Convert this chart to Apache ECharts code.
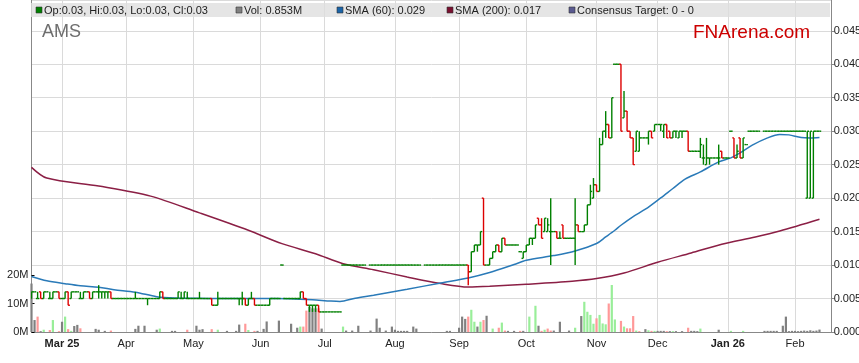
<!DOCTYPE html>
<html><head><meta charset="utf-8">
<script src="https://cdn.jsdelivr.net/npm/echarts/dist/echarts.min.js"></script>
<style>html,body{margin:0;padding:0;background:#fff}#c{width:859px;height:363px}</style>
</head><body><div id="c"></div>
<script>
// ---- data ----
const startDate = '2025-02-17';       // first trading weekday on the axis
const dayCount = 263;                 // weekdays on the axis
const monthLabels = ['Mar 25','Apr','May','Jun','Jul','Aug','Sep','Oct','Nov','Dec','Jan 26','Feb'];
const yearLabels = ['Mar 25','Jan 26'];
const priceTicks = [0,0.005,0.010,0.015,0.020,0.025,0.030,0.035,0.040,0.045];
const volumeTicks = [0,10,20];

const open = [
.005,.006,.005,.006,.005,.006,.005,.005,.006,.006,
.005,.005,.006,.005,.006,.006,.005,.005,.006,.006,
.005,.006,.006,.006,.006,.006,.006,.005,.005,.005,
.005,.005,.005,.005,.005,.005,.005,.005,.005,.005,
.005,.005,.005,.006,.005,.005,.005,.005,.005,.005,
.005,.005,.005,.005,.005,.005,.005,.005,.005,.005,
.004,.004,.005,.005,.005,.005,.005,.005,.005,.005,
.005,.004,.005,.005,.004,.004,.004,.004,.004,.005,
.005,.005,.010,.005,.005,.005,.005,.005,.005,.006,
.005,.004,.004,.004,.004,.003,.003,.003,.003,.003,
.003,.003,.010,.010,.010,.010,.010,.010,.010,.010,
null,.010,.010,.010,.010,.010,.010,.010,.010,.010,
.010,.010,.010,.010,.010,.010,.010,.010,null,.010,
.010,.010,.010,.010,.010,.010,.010,.010,.010,.010,
.010,.010,.010,.010,.009,.012,.013,.013,.020,.010,
.010,.011,.012,.013,.012,.014,.013,.013,.013,.013,
.012,.011,.012,.013,.014,.014,.017,.016,.015,.015,
.015,.015,.015,.014,.016,.014,.014,.014,.014,.016,
.015,.015,.016,.019,.020,.022,.021,.028,.030,.031,
.029,.040,.040,.040,.032,.033,.030,.029,.027,.027,
.029,.029,.029,.030,.030,.031,.031,.030,.031,.030,
.029,.030,.029,.030,.030,.030,.027,.027,.027,.027,
.026,.025,.026,.026,.026,.026,.027,.026,.026,.030,
.029,.026,.029,.026,.028,.030,.030,.030,.030,null,
.030,.030,.030,.030,.030,.030,.030,.030,.030,.030,
.030,.030,.030,.030,.020,.020,.020,.030,.030];
const high = [
.006,.006,.006,.006,.006,.006,.006,.006,.006,.006,
.005,.006,.006,.006,.006,.006,.006,.006,.006,.006,
.006,.006,.007,.006,.006,.006,.006,.005,.005,.005,
.005,.005,.005,.005,.006,.005,.005,.005,.005,.005,
.005,.005,.006,.006,.005,.005,.005,.005,.006,.006,
.006,.006,.005,.005,.005,.006,.005,.005,.005,.005,
.004,.006,.005,.005,.005,.005,.005,.005,.005,.006,
.005,.005,.006,.005,.004,.004,.004,.004,.005,.005,
.005,.005,.010,.005,.005,.005,.005,.005,.006,.006,
.005,.004,.004,.004,.004,.003,.003,.003,.003,.003,
.003,.003,.010,.010,.010,.010,.010,.010,.010,.010,
null,.010,.010,.010,.010,.010,.010,.010,.010,.010,
.010,.010,.010,.010,.010,.010,.010,.010,null,.010,
.010,.010,.010,.010,.010,.010,.010,.010,.010,.010,
.010,.010,.010,.010,.012,.013,.013,.015,.020,.010,
.011,.012,.013,.013,.014,.014,.013,.013,.013,.013,
.012,.012,.013,.014,.014,.016,.017,.017,.017,.017,
.020,.015,.015,.015,.016,.014,.014,.014,.020,.016,
.015,.016,.019,.022,.023,.022,.029,.030,.033,.031,
.035,.040,.040,.040,.036,.033,.030,.029,.030,.030,
.029,.029,.030,.030,.031,.031,.031,.031,.031,.030,
.030,.030,.030,.030,.030,.030,.027,.027,.027,.029,
.028,.029,.026,.026,.026,.028,.027,.026,.026,.030,
.029,.028,.029,.029,.028,.030,.030,.030,.030,null,
.030,.030,.030,.030,.030,.030,.030,.030,.030,.030,
.030,.030,.030,.030,.030,.030,.030,.030,.030];
const low = [
.005,.006,.005,.005,.005,.006,.005,.005,.006,.005,
.005,.005,.004,.005,.006,.006,.005,.005,.006,.005,
.005,.006,.005,.005,.005,.005,.005,.005,.005,.005,
.005,.005,.005,.005,.005,.005,.005,.005,.004,.005,
.005,.005,.005,.005,.005,.005,.005,.005,.005,.005,
.005,.005,.005,.005,.005,.005,.005,.005,.005,.004,
.004,.004,.005,.005,.005,.005,.005,.005,.004,.004,
.004,.004,.005,.004,.004,.004,.004,.004,.004,.005,
.005,.005,.010,.005,.005,.005,.005,.005,.005,.005,
.004,.003,.003,.003,.003,.003,.003,.003,.003,.003,
.003,.003,.010,.010,.010,.010,.010,.010,.010,.010,
null,.010,.010,.010,.010,.010,.010,.010,.010,.010,
.010,.010,.010,.010,.010,.010,.010,.010,null,.010,
.010,.010,.010,.010,.010,.010,.010,.010,.010,.010,
.010,.010,.010,.007,.009,.012,.012,.013,.010,.010,
.010,.011,.012,.012,.012,.013,.013,.013,.013,.013,
.012,.011,.012,.013,.013,.014,.016,.014,.015,.015,
.010,.015,.014,.014,.014,.014,.014,.014,.010,.015,
.015,.015,.016,.019,.020,.021,.021,.028,.029,.029,
.029,.040,.040,.030,.032,.030,.029,.025,.027,.027,
.029,.029,.028,.029,.030,.031,.030,.029,.029,.029,
.029,.029,.029,.029,.030,.027,.027,.027,.027,.026,
.025,.025,.025,.026,.026,.025,.026,.026,.026,.030,
.026,.026,.026,.026,.028,.030,.030,.030,.030,null,
.030,.030,.030,.030,.030,.030,.030,.030,.030,.030,
.030,.030,.030,.030,.020,.020,.020,.030,.030];
const close = [
.006,.006,.005,.005,.006,.006,.005,.006,.006,.005,
.005,.006,.004,.006,.006,.006,.005,.006,.006,.005,
.006,.006,.006,.006,.006,.006,.005,.005,.005,.005,
.005,.005,.005,.005,.005,.005,.005,.005,.005,.005,
.005,.005,.006,.005,.005,.005,.005,.005,.006,.005,
.006,.005,.005,.005,.005,.005,.005,.005,.005,.004,
.004,.005,.005,.005,.005,.005,.005,.005,.005,.005,
.004,.005,.005,.004,.004,.004,.004,.004,.005,.005,
.005,.005,.010,.005,.005,.005,.005,.005,.006,.005,
.004,.004,.004,.004,.003,.003,.003,.003,.003,.003,
.003,.003,.010,.010,.010,.010,.010,.010,.010,.010,
null,.010,.010,.010,.010,.010,.010,.010,.010,.010,
.010,.010,.010,.010,.010,.010,.010,.010,null,.010,
.010,.010,.010,.010,.010,.010,.010,.010,.010,.010,
.010,.010,.010,.009,.012,.013,.013,.015,.010,.010,
.011,.012,.013,.012,.014,.013,.013,.013,.013,.013,
.012,.012,.013,.014,.014,.016,.016,.014,.017,.016,
.015,.015,.014,.014,.014,.014,.014,.014,.016,.015,
.015,.016,.019,.021,.022,.021,.028,.030,.031,.029,
.035,.040,.040,.030,.033,.030,.029,.025,.030,.029,
.029,.029,.030,.029,.031,.031,.031,.031,.029,.029,
.030,.030,.030,.030,.030,.027,.027,.027,.027,.028,
.026,.026,.026,.026,.026,.026,.026,.026,.026,.030,
.026,.027,.026,.029,.028,.030,.030,.030,.030,null,
.030,.030,.030,.030,.030,.030,.030,.030,.030,.030,
.030,.030,.030,.030,.030,.030,.030,.030,.030];
// volume in millions of shares
const volume = [
17.0,4.2,5.4,0.3,0.8,0,0.7,4.2,0,0.3,
3.6,5.4,1.0,0.4,2.1,2.5,1.3,0,0,0,
0,1.1,0.8,0,0.4,0,0.5,0,0,0,
0,0,0,0,1.1,2.2,0,2.2,0,0,
0,0.8,1.2,0,0,0,0.4,0.4,0,0,
0,0.8,0,0,2.2,0.8,1.0,0,0,1.0,
0,0.8,0,0,0.4,0,0,0.4,2.6,0,
2.9,0.7,0,0.4,0.4,0,1.1,3.7,0,0,
0,4.0,0,0,0,2.9,0,1.5,1.9,1.9,
7.5,8.8,8.3,8.3,8.3,1.2,0,0,0,0,
0,0,1.9,0.5,0,0.5,0,2.2,0,0,
0,0.5,0,4.7,1.5,0,0.5,0,1.9,0.8,
0.4,0.4,0.4,0.4,0,1.9,1.2,0,0,0,
0,0,0,0,0,0,0.4,0.4,0,0,
1.5,5.4,4.6,5.4,7.8,3.6,1.9,3.6,4.2,5.7,
0,1.2,0,1.5,3.3,0.5,0.4,0,0.4,0,
0.4,0.4,0,5.4,0,9.2,2.2,0.4,0.8,1.2,
0.5,0.5,0,3.6,0,0,0.5,0,1.5,0,
5.6,10.6,7.1,6.0,2.9,4.8,6.0,3.0,2.7,10.0,
16.5,4.4,0,3.9,1.9,1.3,1.3,5.6,0.5,0.3,
0,1.0,0.6,0.4,0.4,0.4,0.4,0.4,0.3,0.3,
0.3,0.3,0,0.3,0,1.5,0.4,0.4,0.3,1.2,
0,0,0,0,0,0.8,0,0,0,0.4,
0,0,0,0.4,0,0,0,0,0,0,
0.4,0.4,0.4,0.4,0.4,0,2.2,5.4,0.3,0.4,
0.4,0.3,0.4,0.5,0.4,0.6,0.4,0.5,0.853];
// moving averages read at [day index, value]
const sma60 = [[0,.0083],[5,.00765],[11,.00722],[16,.0069],[22,.00668],[27,.00632],[34,.00595],[41,.00528],[47,.00508],[54,.00503],[62,.005],[70,.005],[80,.005],[88,.0049],[92,.00482],[98,.00462],[101,.00456],[106,.00505],[112,.00549],[123,.00638],[134,.00733],[143,.00807],[150,.00888],[158,.01008],[162,.01072],[171,.01142],[178,.01211],[185,.01322],[188,.0142],[191,.0152],[193,.01595],[197,.01725],[201,.01834],[206,.02003],[210,.02144],[214,.02283],[219,.02392],[225,.02541],[229,.02601],[232,.02676],[236,.02791],[241,.029],[245,.02951],[248,.02945],[252,.02906],[255,.029],[258,.02906]];
const sma200 = [[0,.0246],[5,.0230],[22,.0218],[39,.0203],[55,.0178],[71,.0152],[82,.0132],[93,.0117],[102,.0102],[112,.0093],[123,.00822],[134,.00724],[143,.00673],[150,.00683],[162,.00713],[177,.00758],[185,.00798],[194,.00882],[205,.01042],[216,.01181],[226,.01311],[237,.0142],[245,.0151],[258,.01685]];
const legendItems = [
  {name:'Op:0.03, Hi:0.03, Lo:0.03, Cl:0.03', color:'#008000'},
  {name:'Vol: 0.853M', color:'#808080'},
  {name:'SMA (60): 0.029', color:'#1a64a8'},
  {name:'SMA (200): 0.017', color:'#7a1030'},
  {name:'Consensus Target: 0 - 0', color:'#5a5a90'}
];

// ---- build ----
const dates = [];
(function(){ const d = new Date(startDate + 'T00:00:00Z');
  while (dates.length < dayCount) { const w = d.getUTCDay(); if (w !== 0 && w !== 6) dates.push(d.toISOString().slice(0,10)); d.setUTCDate(d.getUTCDate()+1); } })();
const monthStart = {};
(function(){ let k = 0; for (let i = 1; i < dates.length; i++) { if (dates[i].slice(5,7) !== dates[i-1].slice(5,7)) { monthStart[i] = monthLabels[k++]; } } })();

const GREEN = '#008000', RED = '#dd0000';
const ohlc = [];
for (let i = 0; i < close.length; i++) if (close[i] != null) ohlc.push([i, open[i], high[i], low[i], close[i]]);
const volData = [];
let prev = null;
for (let i = 0; i < volume.length; i++) {
  const c = close[i];
  let col = '#808080';
  if (c != null && prev != null) { if (c > prev + 1e-9) col = '#99ee99'; else if (c < prev - 1e-9) col = '#ff9999'; }
  if (c != null) prev = c;
  volData.push({value: volume[i], itemStyle: {color: col}});
}

function renderOHLC(params, api) {
  const i = api.value(0), o = api.value(1), h = api.value(2), l = api.value(3), c = api.value(4);
  const pO = api.coord([i, o]), pH = api.coord([i, h]), pL = api.coord([i, l]), pC = api.coord([i, c]);
  const x = pO[0];
  const w = api.size([1, 0])[0] / 2 + 0.2;
  const col = c < o ? RED : GREEN;
  const st = {stroke: col, lineWidth: 1.4};
  return {type: 'group', children: [
    {type: 'line', shape: {x1: x, y1: pH[1], x2: x, y2: pL[1]}, style: st},
    {type: 'line', shape: {x1: x - w, y1: pO[1], x2: x, y2: pO[1]}, style: st},
    {type: 'line', shape: {x1: x, y1: pC[1], x2: x + w, y2: pC[1]}, style: st}
  ]};
}

const FONT = '"Liberation Sans", Arial, sans-serif';
const legendX = [36, 236, 337, 447, 569];
const graphics = [
  {type:'rect', shape:{x:31, y:3, width:799, height:14}, style:{fill:'rgba(222,222,222,0.78)'}, z:100},
  {type:'text', x:42, y:32, style:{text:'AMS', fill:'#6e6e6e', font:'18px ' + FONT, textVerticalAlign:'middle'}, z:100},
  {type:'text', x:693, y:33, style:{text:'FNArena.com', fill:'#cc0000', font:'19px ' + FONT, textVerticalAlign:'middle'}, z:100}
];
legendItems.forEach((it, k) => {
  graphics.push({type:'rect', shape:{x:legendX[k], y:7, width:6, height:6}, style:{fill:it.color, stroke:'#333', lineWidth:0.6}, z:101});
  graphics.push({type:'text', x:legendX[k] + 8, y:10.5, style:{text:it.name, fill:'#222', font:'11px ' + FONT, textVerticalAlign:'middle'}, z:101});
});

const chart = echarts.init(document.getElementById('c'), null, {renderer:'canvas'});
chart.setOption({
  animation: false,
  backgroundColor: '#fff',
  textStyle: {fontFamily: FONT},
  grid: [
    {left: 31.5, right: 27.3, top: 0, bottom: 31, outerBoundsMode: 'none', containLabel: false},
    {left: 31.5, right: 27.3, top: 275, bottom: 31, outerBoundsMode: 'none', containLabel: false}
  ],
  xAxis: [
    {type:'category', gridIndex:0, data:dates, boundaryGap:false,
     axisLine:{show:true, lineStyle:{color:'#888', width:1}},
     axisTick:{show:false},
     axisLabel:{interval:(idx) => monthStart[idx] !== undefined, margin:6, fontSize:11, color:'#222', fontFamily:FONT,
       formatter:(v, idx) => { const t = monthStart[idx] || ''; return yearLabels.includes(t) ? '{b|' + t + '}' : t; },
       rich:{b:{fontWeight:'bold', fontSize:11, fontFamily:FONT, color:'#222'}}},
     splitLine:{show:true, interval:(idx) => monthStart[idx] !== undefined, lineStyle:{color:'#dadada', width:1}}},
    {type:'category', gridIndex:1, data:dates, boundaryGap:false, show:false}
  ],
  yAxis: [
    {type:'value', gridIndex:0, position:'right', min:0, max:0.0496, interval:0.005,
     axisLine:{show:true, lineStyle:{color:'#888'}}, axisTick:{show:true, length:3, lineStyle:{color:'#888'}},
     axisLabel:{showMaxLabel:false, margin:2, fontSize:11, color:'#222', fontFamily:FONT,
       formatter:(v) => priceTicks.some(t => Math.abs(t - v) < 1e-9) ? v.toFixed(3) : ''},
     splitLine:{show:true, lineStyle:{color:'#dadada', width:1}}},
    {type:'value', gridIndex:1, position:'left', min:0, max:20, interval:10,
     axisLine:{show:false}, axisTick:{show:true, inside:true, length:3, lineStyle:{color:'#000'}},
     axisLabel:{margin:3, fontSize:11, color:'#222', fontFamily:FONT,
       formatter:(v) => volumeTicks.includes(v) ? v + 'M' : ''},
     splitLine:{show:false}},
    {type:'value', gridIndex:0, position:'left', min:0, max:1,
     axisLine:{show:true, lineStyle:{color:'#888'}}, axisTick:{show:false}, axisLabel:{show:false}, splitLine:{show:false}}
  ],
  graphic: graphics,
  series: [
    {type:'bar', xAxisIndex:1, yAxisIndex:1, data:volData, barWidth:2.2, silent:true, z:1},
    {type:'line', xAxisIndex:0, yAxisIndex:0, data:sma200, smooth:0.3, showSymbol:false, silent:true,
     lineStyle:{color:'#8b1f45', width:1.5}, z:2},
    {type:'line', xAxisIndex:0, yAxisIndex:0, data:sma60, smooth:0.3, showSymbol:false, silent:true,
     lineStyle:{color:'#2a7ab8', width:1.5}, z:3},
    {type:'custom', xAxisIndex:0, yAxisIndex:0, data:ohlc, renderItem:renderOHLC, clip:true, silent:true,
     encode:{x:0, y:[1,2,3,4]}, z:4}
  ]
});
</script></body></html>
